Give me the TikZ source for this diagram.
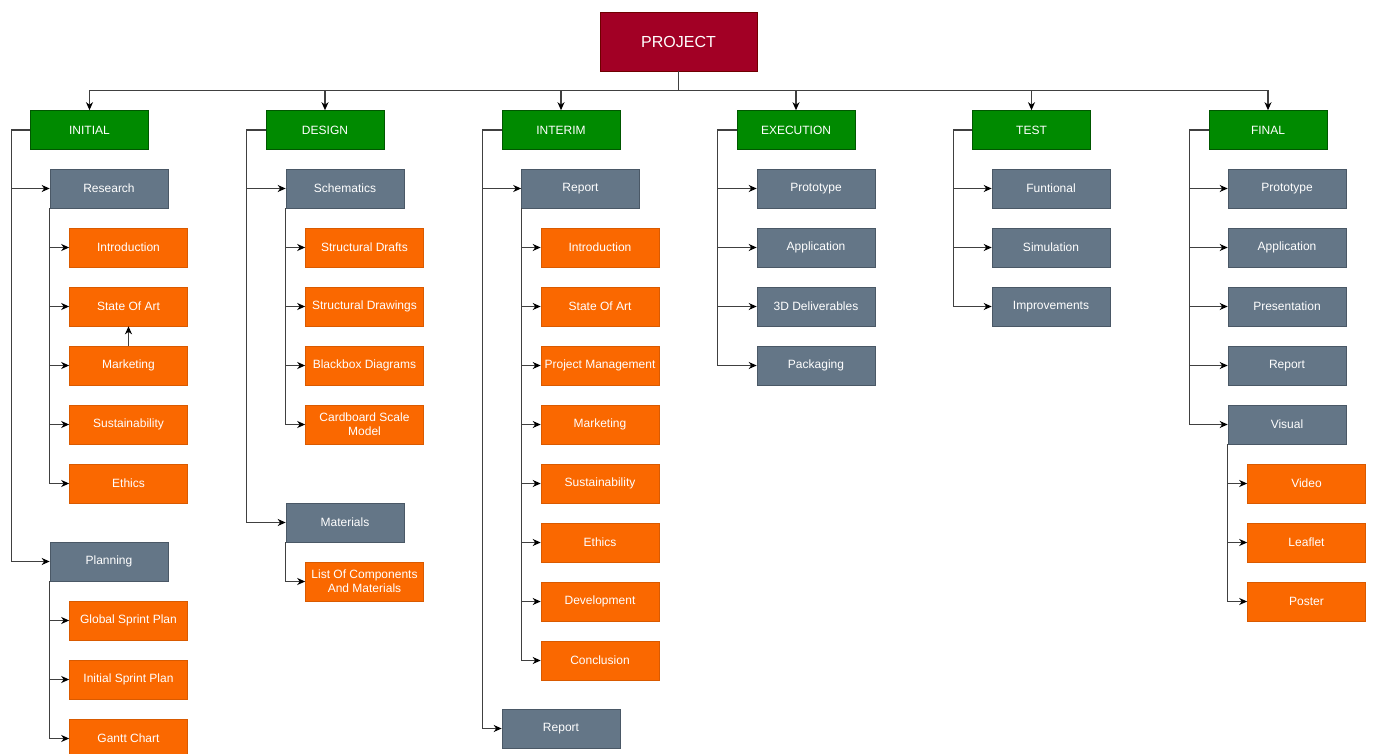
\documentclass[tikz,border=0pt]{standalone}
\usepackage{fontspec}
\setmainfont{Liberation Sans}
\usetikzlibrary{arrows.meta}
\definecolor{cred}{HTML}{A20025}
\definecolor{credb}{HTML}{6F0000}
\definecolor{cgreen}{HTML}{008A00}
\definecolor{cgreenb}{HTML}{005700}
\definecolor{cgray}{HTML}{647687}
\definecolor{cgrayb}{HTML}{4A5866}
\definecolor{corange}{HTML}{FA6800}
\definecolor{corangeb}{HTML}{D95A00}
\begin{document}
\begin{tikzpicture}[x=1pt,y=-1pt,
  box/.style={draw, line width=0.6pt, minimum width=118pt, minimum height=39pt, text=white,
    font=\fontsize{12}{14}\selectfont, align=center, inner sep=1pt},
  lone/.style={box, fill=cgreen, draw=cgreenb},
  gbox/.style={box, fill=cgray, draw=cgrayb},
  obox/.style={box, fill=corange, draw=corangeb},
  arr/.style={draw=black!75, line width=1.1pt, -{Stealth[length=8pt,width=7pt,inset=2.5pt,color=black]}}]
\useasboundingbox (0,0) rectangle (1374,754);
\clip (0,0) rectangle (1374,754);

% root
\node[box, fill=cred, draw=credb, minimum width=157pt, minimum height=59pt,
  font=\fontsize{16}{18}\selectfont] (project) at (678.5,41.5) {PROJECT};

% level 1
\node[lone] (initial) at (89.5,130) {INITIAL};
\node[lone] (design) at (325,130) {DESIGN};
\node[lone] (interim) at (561,130) {INTERIM};
\node[lone] (execution) at (796,130) {EXECUTION};
\node[lone] (test) at (1031.5,130) {TEST};
\node[lone] (final) at (1268,130) {FINAL};

\foreach \n in {initial,design,interim,execution,test,final}{
  \draw[arr] (project.south) -- ++(0,19) -| (\n.north);
}

% INITIAL
\node[gbox] (research) at (109,188.5) {Research};
\node[obox] (intro1) at (128.5,247.5) {Introduction};
\node[obox] (soa1) at (128.5,306.5) {State Of Art};
\node[obox] (mkt1) at (128.5,365.5) {Marketing};
\node[obox] (sus1) at (128.5,424.5) {Sustainability};
\node[obox] (eth1) at (128.5,483.5) {Ethics};
\node[gbox] (planning) at (109,561.5) {Planning};
\node[obox] (gsp) at (128.5,620.5) {Global Sprint Plan};
\node[obox] (isp) at (128.5,679.5) {Initial Sprint Plan};
\node[obox] (gantt) at (128.5,738.5) {Gantt Chart};
\draw[arr] (initial.west) -- ++(-19,0) |- (research.west);
\draw[arr] (initial.west) -- ++(-19,0) |- (planning.west);
\foreach \n in {intro1,soa1,mkt1,sus1,eth1}{\draw[arr] (research.south west) |- (\n.west);}
\foreach \n in {gsp,isp,gantt}{\draw[arr] (planning.south west) |- (\n.west);}
\draw[arr] (mkt1.north) -- (soa1.south);

% DESIGN
\node[gbox] (schem) at (345,188.5) {Schematics};
\node[obox] (sdraft) at (364.5,247.5) {Structural Drafts};
\node[obox] (sdraw) at (364.5,306.5) {Structural Drawings};
\node[obox] (bbox) at (364.5,365.5) {Blackbox Diagrams};
\node[obox] (card) at (364.5,424.5) {Cardboard Scale\\Model};
\node[gbox] (mat) at (345,522.5) {Materials};
\node[obox] (loc) at (364.5,581.5) {List Of Components\\And Materials};
\draw[arr] (design.west) -- ++(-19,0) |- (schem.west);
\draw[arr] (design.west) -- ++(-19,0) |- (mat.west);
\foreach \n in {sdraft,sdraw,bbox,card}{\draw[arr] (schem.south west) |- (\n.west);}
\draw[arr] (mat.south west) |- (loc.west);

% INTERIM
\node[gbox] (rep1) at (580.5,188.5) {Report};
\node[obox] (intro2) at (600,247.5) {Introduction};
\node[obox] (soa2) at (600,306.5) {State Of Art};
\node[obox] (pm) at (600,365.5) {Project Management};
\node[obox] (mkt2) at (600,424.5) {Marketing};
\node[obox] (sus2) at (600,483.5) {Sustainability};
\node[obox] (eth2) at (600,542.5) {Ethics};
\node[obox] (dev) at (600,601.5) {Development};
\node[obox] (conc) at (600,660.5) {Conclusion};
\node[gbox] (rep2) at (561,728.5) {Report};
\draw[arr] (interim.west) -- ++(-19,0) |- (rep1.west);
\draw[arr] (interim.west) -- ++(-19,0) |- (rep2.west);
\foreach \n in {intro2,soa2,pm,mkt2,sus2,eth2,dev,conc}{\draw[arr] (rep1.south west) |- (\n.west);}

% EXECUTION
\node[gbox] (proto1) at (816,188.5) {Prototype};
\node[gbox] (app1) at (816,247.5) {Application};
\node[gbox] (del) at (816,306.5) {3D Deliverables};
\node[gbox] (pack) at (816,365.5) {Packaging};
\foreach \n in {proto1,app1,del,pack}{\draw[arr] (execution.west) -- ++(-19,0) |- (\n.west);}

% TEST
\node[gbox] (fun) at (1051,188.5) {Funtional};
\node[gbox] (sim) at (1051,247.5) {Simulation};
\node[gbox] (imp) at (1051,306.5) {Improvements};
\foreach \n in {fun,sim,imp}{\draw[arr] (test.west) -- ++(-19,0) |- (\n.west);}

% FINAL
\node[gbox] (proto2) at (1287,188.5) {Prototype};
\node[gbox] (app2) at (1287,247.5) {Application};
\node[gbox] (pres) at (1287,306.5) {Presentation};
\node[gbox] (rep3) at (1287,365.5) {Report};
\node[gbox] (vis) at (1287,424.5) {Visual};
\node[obox] (vid) at (1306.5,483.5) {Video};
\node[obox] (leaf) at (1306.5,542.5) {Leaflet};
\node[obox] (post) at (1306.5,601.5) {Poster};
\foreach \n in {proto2,app2,pres,rep3,vis}{\draw[arr] (final.west) -- ++(-19,0) |- (\n.west);}
\foreach \n in {vid,leaf,post}{\draw[arr] (vis.south west) |- (\n.west);}
\end{tikzpicture}
\end{document}
